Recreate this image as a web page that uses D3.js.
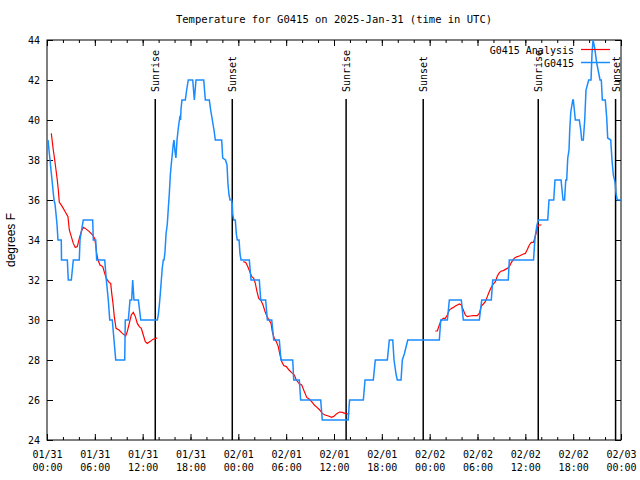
<!DOCTYPE html>
<html>
<head>
<meta charset="utf-8">
<script src="https://cdn.jsdelivr.net/npm/d3@7"></script>
<style>
  body { margin: 0; background: #fff; }
  svg { display: block; }
</style>
</head>
<body>
<script>
// hours after 2025-01-31 00:00 UTC, temperature in F
var station = [
  [0.13,39],[0.25,38.5],[0.38,38],[0.5,37.5],[0.63,37],[0.75,36.5],[0.88,36],[1.0,35.8],
  [1.13,35.3],[1.25,34.8],[1.38,34],[1.79,34],[1.82,33],[2.55,33],[2.67,32],[3.05,32],
  [3.30,33],[4.05,33],[4.14,34],[4.55,35],[5.73,35],[5.81,34],[6.11,34],[6.23,33],
  [7.24,33],[7.44,32],[7.69,31],[7.87,30],[8.19,30],[8.62,28],[9.75,28],[9.82,30],
  [10.2,30],[10.41,31],[10.62,31],[10.75,32],[10.91,31],[11.46,31],[11.76,30],[13.84,30],
  [13.96,30.25],[14.09,30.75],[14.21,31.3],[14.34,32],[14.46,32.6],[14.59,33],[14.68,33],
  [14.80,33.4],[14.93,34.3],[15.09,34.8],[15.22,35.6],[15.34,36.3],[15.47,37.25],[15.59,37.8],
  [15.72,38.3],[15.84,38.8],[15.93,39],[16.06,38.4],[16.17,38.1],[16.31,39],[16.47,39.6],
  [16.65,40.1],[16.75,40],[16.81,40.55],[16.93,41],[17.35,41],[17.52,41.5],[17.72,42],
  [18.28,42],[18.48,41],[18.69,42],[19.66,42],[19.86,41],[20.36,41],[20.53,40.5],[20.74,40],
  [20.82,39.8],[20.95,39.5],[21.11,39],[21.91,39],[22.04,38.1],[22.39,38],[22.58,37.75],
  [22.70,36.8],[22.83,36.25],[22.96,36],[23.17,36],[23.24,35.8],[23.29,35.3],[23.42,35],
  [23.62,35],[23.75,34.3],[23.87,34],[24.09,34],[24.21,33.3],[24.34,33],[25.38,33],
  [25.59,32],[26.63,32],[26.81,31],[27.43,31],[27.64,30],[28.19,30],[28.44,29],[29.14,29],
  [29.35,28],[30.82,28],[30.95,27],[31.65,27],[31.82,26],[34.33,26],[34.53,25],[37.78,25],
  [37.95,26],[39.68,26],[39.89,27],[40.93,27],[41.18,28],[42.69,28],[42.94,29],[43.37,29],
  [43.53,28],[43.78,27.3],[43.94,27],[44.41,27],[44.57,28],[44.82,28.3],[45.25,29],[49.21,29],
  [49.39,30],[50.22,30],[50.47,31],[51.97,31],[52.22,30],[54.23,30],[54.53,31],[55.73,31],
  [55.91,32],[57.86,32],[57.99,33],[61.03,33],[61.21,34.1],[61.46,34.75],[61.63,35],[62.81,35],
  [62.97,36],[63.56,36],[63.72,37],[64.48,37],[64.73,36],[64.92,36],[65.07,37],[65.19,37],
  [65.32,38.1],[65.48,38.5],[65.57,39.5],[65.70,40.4],[65.95,41],[66.02,41],[66.15,40.5],
  [66.27,40],[66.77,40],[66.95,39.5],[67.07,39],[67.27,39],[67.45,40],[67.61,41.5],[67.95,42],
  [68.24,42],[68.36,43.3],[68.49,44],[68.70,43.6],[68.95,42.85],[69.20,42.35],[69.37,42],
  [69.53,42],[69.66,41],[70.03,41],[70.21,40.1],[70.33,39.1],[70.71,39],[70.87,38],[71.04,37.25],
  [71.25,36.9],[71.38,36.3],[71.54,36],[72.0,36]
];

var analysisDay1 = [
  [0.54,39.33],[0.79,38.5],[0.97,38],[1.13,37.5],[1.29,37],[1.42,36.5],[1.54,35.9],[1.92,35.67],
  [2.30,35.4],[2.63,35.17],[2.80,34.5],[3.05,34.17],[3.30,33.83],[3.55,33.63],[3.80,33.67],
  [4.05,34.08],[4.30,34.42],[4.55,34.63],[4.80,34.58],[5.31,34.42],[5.73,34.25],[5.98,34.08],
  [6.11,33.75],[6.23,33.33],[6.40,33],[6.65,32.75],[6.99,32.67],[7.24,32.33],[7.44,32.08],
  [7.78,31.88],[7.99,31.83],[8.12,31.33],[8.28,30.83],[8.44,30.17],[8.66,29.58],[9.03,29.5],
  [9.45,29.33],[9.87,29.2],[10.07,29.42],[10.32,29.83],[10.57,30.25],[10.83,30.38],[11.08,30.17],
  [11.33,29.83],[11.58,29.67],[11.83,29.58],[12.08,29.25],[12.33,28.92],[12.58,28.83],[12.92,28.92],
  [13.26,29.03],[13.58,29.08],[13.84,29.1]
];
var analysisDay2 = [
  [24.62,32.92],[24.93,32.88],[25.18,32.67],[25.43,32.42],[25.68,32.17],[25.93,32.08],[26.13,31.83],
  [26.34,31.42],[26.56,31.08],[26.84,30.97],[27.10,30.75],[27.35,30.42],[27.60,30.17],[27.85,30],
  [28.10,29.83],[28.26,29.42],[28.51,29.08],[28.76,28.92],[29.01,28.67],[29.23,28.25],[29.44,27.92],
  [29.69,27.72],[30.02,27.67],[30.36,27.5],[30.69,27.37],[31.02,27.25],[31.27,27],[31.61,26.83],
  [31.95,26.75],[32.28,26.42],[32.58,26.13],[32.87,26.05],[33.20,25.92],[33.53,25.75],[33.87,25.63],
  [34.21,25.5],[34.53,25.33],[34.87,25.25],[35.29,25.2],[35.71,25.13],[36.04,25.2],[36.38,25.33],
  [36.72,25.4],[37.04,25.38],[37.38,25.33],[37.72,25.3],[37.92,25.33]
];
var analysisDay3 = [
  [48.71,29.45],[48.96,29.45],[49.21,29.75],[49.46,30],[49.71,30.08],[49.96,30.08],[50.21,30.25],
  [50.47,30.5],[50.72,30.58],[50.97,30.63],[51.22,30.7],[51.47,30.75],[51.72,30.8],[51.97,30.75],
  [52.22,30.5],[52.47,30.25],[52.72,30.17],[53.06,30.2],[53.48,30.22],[53.98,30.22],[54.23,30.33],
  [54.48,30.7],[54.73,30.8],[54.98,30.92],[55.23,31.17],[55.48,31.42],[55.73,31.63],[55.98,31.8],
  [56.24,31.92],[56.49,32.2],[56.74,32.37],[56.99,32.45],[57.24,32.47],[57.49,32.53],[57.74,32.58],
  [57.99,32.67],[58.24,32.87],[58.49,33.03],[58.74,33.13],[58.99,33.17],[59.24,33.2],[59.50,33.25],
  [59.75,33.3],[60.00,33.33],[60.25,33.53],[60.50,33.75],[60.75,33.88],[61.00,33.88],[61.18,34.08],
  [61.34,34.33],[61.50,34.58],[61.66,34.75],[62.03,34.75]
];

var sunEvents = [
  ["Sunrise", 13.58], ["Sunset", 23.24],
  ["Sunrise", 37.52], ["Sunset", 47.19],
  ["Sunrise", 61.62], ["Sunset", 71.32]
];
var sunLineTop = 41.05;
var yTicks = [24, 26, 28, 30, 32, 34, 36, 38, 40, 42, 44];
var legendLabels = ["G0415 Analysis", "G0415"];
var colors = ["#ff0000", "#1a8cff"];
var title = "Temperature for G0415 on 2025-Jan-31 (time in UTC)";
var yTitle = "degrees F";

var start = Date.UTC(2025, 0, 31);
function toDate(h) { return new Date(start + h * 3600000); }

var w = 640, h = 480;
var margin = {top: 40, right: 19, bottom: 40, left: 47};
var mono = "'DejaVu Sans Mono', 'Liberation Mono', monospace";

var svg = d3.select("body").append("svg")
            .attr("width", w)
            .attr("height", h);

var xScale = d3.scaleUtc()
               .domain([toDate(0), toDate(72)])
               .range([margin.left, w - margin.right]);
var yScale = d3.scaleLinear()
               .domain([24, 44])
               .range([h - margin.bottom, margin.top]);

// ticks on every side, pointing in
var bottom = svg.append("g")
   .attr("transform", "translate(0," + (h - margin.bottom) + ")")
   .call(d3.axisBottom(xScale).ticks(d3.utcHour.every(6)).tickSize(-6).tickFormat(d3.utcFormat("%m/%d")));
bottom.selectAll(".tick text").each(function(d) {
  var t = d3.select(this);
  t.text(null).attr("y", 0).attr("dy", null);
  t.append("tspan").attr("x", 0).attr("y", 18).text(d3.utcFormat("%m/%d")(d));
  t.append("tspan").attr("x", 0).attr("y", 31).text(d3.utcFormat("%H:%M")(d));
});
svg.append("g")
   .attr("transform", "translate(0," + (h - margin.bottom) + ")")
   .call(d3.axisBottom(xScale).ticks(d3.utcHour.every(2)).tickSize(-3).tickFormat(""));
svg.append("g")
   .attr("transform", "translate(0," + margin.top + ")")
   .call(d3.axisTop(xScale).ticks(d3.utcHour.every(6)).tickSize(-6).tickFormat(""));
svg.append("g")
   .attr("transform", "translate(0," + margin.top + ")")
   .call(d3.axisTop(xScale).ticks(d3.utcHour.every(2)).tickSize(-3).tickFormat(""));
svg.append("g")
   .attr("transform", "translate(" + margin.left + ",0)")
   .call(d3.axisLeft(yScale).tickValues(yTicks).tickSize(-6).tickPadding(7).tickFormat(d3.format("d")));
svg.append("g")
   .attr("transform", "translate(" + (w - margin.right) + ",0)")
   .call(d3.axisRight(yScale).tickValues(yTicks).tickSize(-6).tickFormat(""));

svg.selectAll(".domain").remove();
svg.selectAll(".tick line").attr("stroke", "#000");
svg.selectAll(".tick text")
   .attr("font-family", mono)
   .attr("font-size", 10)
   .attr("fill", "#000");

// frame
svg.append("rect")
   .attr("x", margin.left)
   .attr("y", margin.top)
   .attr("width", w - margin.left - margin.right)
   .attr("height", h - margin.top - margin.bottom)
   .attr("fill", "none")
   .attr("stroke", "#000")
   .attr("stroke-width", 1);

// sunrise / sunset markers
sunEvents.forEach(function(ev) {
  var sx = xScale(toDate(ev[1]));
  svg.append("line")
     .attr("x1", sx).attr("x2", sx)
     .attr("y1", yScale(sunLineTop)).attr("y2", yScale(24))
     .attr("stroke", "#000")
     .attr("stroke-width", 1.5);
  svg.append("text")
     .attr("transform", "translate(" + (sx + 4) + "," + (yScale(sunLineTop) - 7) + ") rotate(-90)")
     .attr("font-family", mono)
     .attr("font-size", 10)
     .text(ev[0]);
});

var line = d3.line()
             .x(function(d) { return xScale(toDate(d[0])); })
             .y(function(d) { return yScale(d[1]); });

[analysisDay1, analysisDay2, analysisDay3].forEach(function(seg) {
  svg.append("path")
     .attr("d", line(seg))
     .attr("fill", "none")
     .attr("stroke", colors[0])
     .attr("stroke-width", 1.2);
});
svg.append("path")
   .attr("d", line(station))
   .attr("fill", "none")
   .attr("stroke", colors[1])
   .attr("stroke-width", 1.5);

// legend
legendLabels.forEach(function(lbl, i) {
  var ly = 49.5 + i * 13;
  svg.append("text")
     .attr("x", 574)
     .attr("y", ly + 4)
     .attr("text-anchor", "end")
     .attr("font-family", mono)
     .attr("font-size", 10)
     .text(lbl);
  svg.append("line")
     .attr("x1", 581).attr("x2", 610)
     .attr("y1", ly).attr("y2", ly)
     .attr("stroke", colors[i])
     .attr("stroke-width", i == 0 ? 1.2 : 1.5);
});

// titles
svg.append("text")
   .attr("x", (margin.left + w - margin.right) / 2)
   .attr("y", 23)
   .attr("text-anchor", "middle")
   .attr("font-family", mono)
   .attr("font-size", 10.5)
   .text(title);

svg.append("text")
   .attr("transform", "translate(15," + ((margin.top + h - margin.bottom) / 2) + ") rotate(-90)")
   .attr("text-anchor", "middle")
   .attr("font-family", "'Liberation Sans', Arial, sans-serif")
   .attr("font-size", 12)
   .text(yTitle);
</script>
</body>
</html>
